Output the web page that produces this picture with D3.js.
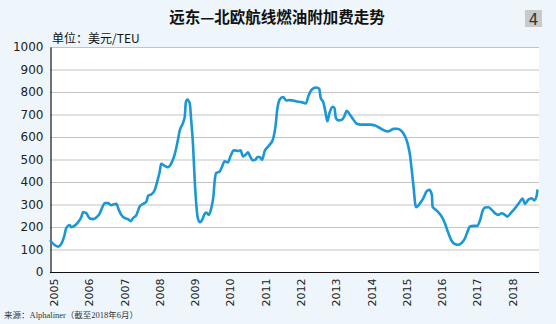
<!DOCTYPE html>
<html><head><meta charset="utf-8">
<script src="https://cdn.jsdelivr.net/npm/d3@7/dist/d3.min.js"></script>
<style>
html,body{margin:0;padding:0;background:#eef6fc;}
svg{display:block;}
</style></head>
<body>
<svg id="chart" width="556" height="324"></svg>
<script>
const title = "远东—北欧航线燃油附加费走势";
const unitLabel = "单位：美元/TEU";
const sourceLabel = "来源：Alphaliner（截至2018年6月）";
const pageNumber = "4";
const yTicks = [0,100,200,300,400,500,600,700,800,900,1000];
const xTickYears = [2005,2006,2007,2008,2009,2010,2011,2012,2013,2014,2015,2016,2017,2018];

// time (decimal year) and fuel surcharge (USD/TEU)
const dates = [
2005.02,2005.13,2005.23,2005.32,2005.40,2005.46,2005.56,2005.60,2005.70,2005.81,2005.89,2005.94,
2006.03,2006.12,2006.22,2006.31,2006.41,2006.48,2006.55,2006.64,2006.74,2006.81,2006.88,2006.95,
2007.02,2007.13,2007.21,2007.29,2007.35,2007.45,2007.54,2007.64,2007.73,2007.78,2007.87,2007.97,
2008.04,2008.11,2008.15,2008.25,2008.34,2008.44,2008.53,2008.63,2008.67,2008.77,2008.82,2008.85,2008.89,2008.96,
2009.00,2009.05,2009.10,2009.15,2009.19,2009.25,2009.31,2009.38,2009.43,2009.50,2009.57,2009.63,2009.67,2009.71,2009.81,2009.87,2009.95,
2010.04,2010.12,2010.21,2010.33,2010.40,2010.47,2010.54,2010.61,2010.68,2010.75,2010.82,2010.88,2010.94,
2011.01,2011.08,2011.20,2011.32,2011.39,2011.44,2011.51,2011.60,2011.70,2011.80,2011.99,
2012.13,2012.25,2012.32,2012.42,2012.54,2012.63,2012.67,2012.75,2012.80,2012.86,2012.92,
2013.01,2013.06,2013.10,2013.17,2013.27,2013.34,2013.41,2013.50,2013.60,2013.69,2013.83,
2014.07,2014.21,2014.35,2014.49,2014.59,2014.73,2014.84,2014.97,
2015.06,2015.13,2015.20,2015.25,2015.30,2015.37,2015.49,2015.58,2015.67,2015.75,2015.82,2015.84,2015.96,
2016.10,2016.19,2016.29,2016.38,2016.48,2016.57,2016.67,2016.76,2016.83,2016.90,
2017.00,2017.11,2017.19,2017.26,2017.33,2017.42,2017.52,2017.61,2017.71,2017.80,2017.89,2017.96,
2018.05,2018.18,2018.30,2018.39,2018.46,2018.55,2018.65,2018.72,2018.79,2018.81
];
const surcharge = [
138,120,113,125,157,195,209,199,206,224,246,267,
261,239,235,242,261,287,306,306,297,301,303,276,
254,239,235,226,239,254,291,303,312,339,345,365,
403,447,481,472,466,484,521,591,625,663,692,755,767,749,
677,573,410,291,239,221,231,258,264,254,284,336,410,440,447,466,492,
487,517,541,538,541,514,521,532,511,496,499,511,511,
499,536,561,591,648,722,767,778,762,764,758,
755,749,781,811,820,814,774,752,715,670,707,
734,729,685,674,677,692,717,699,677,659,655,
655,651,640,628,625,636,637,625,
603,573,521,454,380,288,306,328,358,365,343,291,273,
246,217,172,139,123,121,130,150,179,202,
205,205,232,272,287,288,276,261,254,261,254,246,
261,284,309,327,303,321,328,318,339,362
];

const svg = d3.select("#chart");
const W = 556, H = 324;
const plot = {left:50, right:539, top:47, bottom:272};

const x = d3.scaleLinear().domain([2005, 2018.8]).range([plot.left, 537]);
const y = d3.scaleLinear().domain([0, 1000]).range([plot.bottom, plot.top]);

svg.append("rect").attr("width", W).attr("height", H).attr("fill", "#eef6fc");
svg.append("rect").attr("x", plot.left).attr("y", plot.top)
  .attr("width", plot.right - plot.left).attr("height", plot.bottom - plot.top)
  .attr("fill", "#ffffff");

// gridlines
svg.append("g").selectAll("line").data(yTicks.filter(d => d > 0)).join("line")
  .attr("x1", plot.left).attr("x2", plot.right)
  .attr("y1", d => y(d) + 0.5).attr("y2", d => y(d) + 0.5)
  .attr("stroke", "#c4c4c4").attr("stroke-width", 1.2);

// y axis
const yAxis = d3.axisLeft(y).tickValues(yTicks).tickSize(0).tickPadding(7).tickFormat(d3.format("d"));
const gy = svg.append("g").attr("transform", `translate(${plot.left + 0.5},0)`).call(yAxis);
gy.select(".domain").attr("stroke", "#111").attr("stroke-width", 1.2);
gy.selectAll("text").attr("font-family", "DejaVu Sans, sans-serif").attr("font-size", 12).attr("fill", "#222");

// x axis
const xAxis = d3.axisBottom(x).tickValues(xTickYears).tickSize(0).tickFormat(d3.format("d"));
const gx = svg.append("g").attr("transform", `translate(0,${plot.bottom + 0.5})`).call(xAxis);
gx.select(".domain").attr("stroke", "#111").attr("stroke-width", 1.2)
  .attr("d", `M${plot.left},0H${plot.right}`);
gx.selectAll(".tick text")
  .attr("font-family", "DejaVu Sans, sans-serif").attr("font-size", 11).attr("fill", "#222")
  .attr("text-anchor", "end").attr("dominant-baseline", "central")
  .attr("transform", "translate(4,6) rotate(-90)")
  .attr("x", 0).attr("y", 0).attr("dy", null);

// line
const line = d3.line()
  .x((d, i) => x(dates[i]))
  .y(d => y(d))
  .curve(d3.curveMonotoneX);
svg.append("path").datum(surcharge)
  .attr("d", line).attr("fill", "none")
  .attr("stroke", "#1b97d6").attr("stroke-width", 2.6)
  .attr("stroke-linejoin", "round").attr("stroke-linecap", "round");

// title
svg.append("text").attr("x", 277).attr("y", 23).attr("text-anchor", "middle")
  .attr("font-family", "Noto Sans CJK SC, sans-serif").attr("font-weight", "bold")
  .attr("font-size", 15.5).attr("fill", "#111").text(title);

// page number box
svg.append("rect").attr("x", 525).attr("y", 10).attr("width", 17).attr("height", 17).attr("fill", "#c9c9c9");
svg.append("text").attr("x", 533.5).attr("y", 24.5).attr("text-anchor", "middle")
  .attr("font-family", "DejaVu Sans, sans-serif").attr("font-size", 15).attr("fill", "#333").text(pageNumber);

// unit label
svg.append("text").attr("x", 52).attr("y", 43)
  .attr("font-family", "Noto Sans CJK SC, sans-serif").attr("font-size", 12).attr("fill", "#111").text(unitLabel);

// source
svg.append("text").attr("x", 4).attr("y", 318)
  .attr("font-family", "Liberation Serif, Noto Sans CJK SC, serif").attr("font-size", 8.5).attr("fill", "#333").text(sourceLabel);
</script>
</body></html>
